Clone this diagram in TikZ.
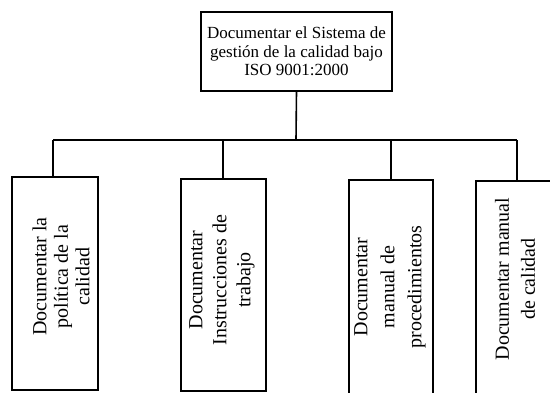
\documentclass[tikz,border=0pt]{standalone}
\usepackage{fontspec}
\setmainfont{Liberation Serif}
\begin{document}
\begin{tikzpicture}[x=1pt,y=-1pt,
  box/.style={draw=black, line width=1.6pt, fill=white, inner sep=0pt},
  link/.style={draw=black, line width=1.6pt},
  toptext/.style={align=center, font=\fontsize{17}{18.5}\selectfont},
  vlabel/.style={rotate=90, align=center, inner sep=0pt, font=\fontsize{20}{24}\selectfont}]
\useasboundingbox (0,0) rectangle (550,392);

% root node
\node[box, toptext, minimum width=191pt, minimum height=79pt] (root) at (296.5,51.5)
  {Documentar el Sistema de\\gestión de la calidad bajo\\ISO 9001:2000};

% the four document boxes
\node[box, minimum width=86pt, minimum height=213pt] (b1) at (55,283.5) {};
\node[box, minimum width=85pt, minimum height=212pt] (b2) at (223.5,285) {};
\node[box, minimum width=84pt, minimum height=216pt] (b3) at (391,288) {};
\node[box, minimum width=84pt, minimum height=216pt] (b4) at (518,289) {};

% labels inside the boxes, set vertically
\node[vlabel, font=\fontsize{20}{21.5}\selectfont] (t1) at ([shift={(6,-7)}]b1.center)
  {Documentar la\\política de la\\calidad};
\node[vlabel] (t2) at ([shift={(-1.5,-5)}]b2.center)
  {Documentar\\Instrucciones de\\trabajo};
\node[vlabel, font=\fontsize{20}{27}\selectfont] (t3) at ([shift={(-1,-1)}]b3.center)
  {Documentar\\manual de\\procedimientos};
\node[vlabel, font=\fontsize{20}{26}\selectfont] (t4) at ([shift={(-3,-10)}]b4.center)
  {Documentar manual\\de calidad};

% connectors
\coordinate (bus) at (296,140);
\coordinate (j1) at (53,140);
\coordinate (j2) at (223,140);
\coordinate (j3) at (391,140);
\coordinate (j4) at (517,140);
\draw[link] (root.south) -- (bus);
\draw[link] (j1) -- (j4);
\draw[link] (j1) -- (j1 |- b1.north);
\draw[link] (j2) -- (j2 |- b2.north);
\draw[link] (j3) -- (j3 |- b3.north);
\draw[link] (j4) -- (j4 |- b4.north);
\end{tikzpicture}
\end{document}
